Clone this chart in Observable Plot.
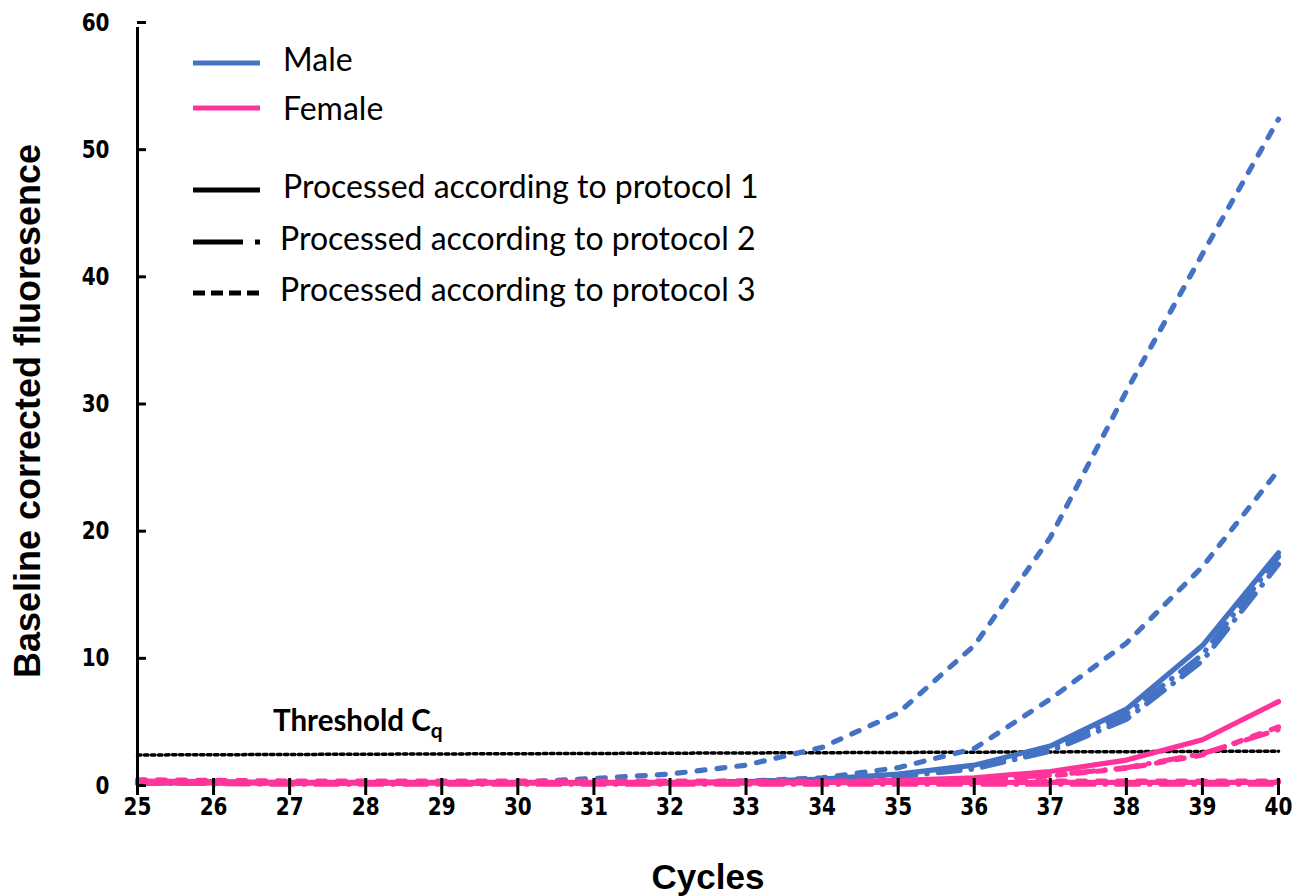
<!DOCTYPE html>
<html><head><meta charset="utf-8">
<script src="https://cdn.jsdelivr.net/npm/d3@7"></script>
<script src="https://cdn.jsdelivr.net/npm/@observablehq/plot@0.6"></script>
<style>
body{margin:0;background:#fff;}
#wrap{position:relative;width:1306px;height:896px;overflow:hidden;}
#overlay{position:absolute;left:0;top:0;pointer-events:none;}
</style></head><body><div id="wrap"></div>
<script>
// ---- data ----
const cycles     = [25, 26, 27, 28, 29, 30, 31, 32, 33, 34, 35, 36, 37, 38, 39, 40];
const maleP1     = [0.2, 0.2, 0.2, 0.2, 0.2, 0.2, 0.2, 0.2, 0.3, 0.5, 0.9, 1.6, 3.1, 6.0, 11.0, 18.3];
const maleP2a    = [0.2, 0.2, 0.2, 0.2, 0.2, 0.2, 0.2, 0.2, 0.3, 0.4, 0.8, 1.5, 2.9, 5.6, 10.3, 18.0];
const maleP2b    = [0.2, 0.2, 0.2, 0.2, 0.2, 0.2, 0.2, 0.2, 0.3, 0.4, 0.7, 1.3, 2.7, 5.2, 9.8, 17.4];
const maleP3a    = [0.3, 0.25, 0.2, 0.2, 0.2, 0.25, 0.55, 0.9, 1.6, 3.0, 5.7, 11.0, 19.5, 31.0, 41.8, 52.4];
const maleP3b    = [0.2, 0.2, 0.2, 0.2, 0.2, 0.2, 0.2, 0.25, 0.35, 0.6, 1.4, 2.9, 6.8, 11.2, 17.2, 24.8];
const femaleP1a  = [0.3, 0.25, 0.2, 0.2, 0.2, 0.2, 0.2, 0.2, 0.2, 0.25, 0.4, 0.6, 1.1, 2.0, 3.6, 6.6];
const femaleP2a  = [0.3, 0.25, 0.2, 0.2, 0.2, 0.2, 0.2, 0.2, 0.2, 0.2, 0.3, 0.5, 0.8, 1.4, 2.5, 4.4];
const femaleP3a  = [0.3, 0.25, 0.2, 0.2, 0.2, 0.2, 0.2, 0.2, 0.2, 0.2, 0.3, 0.45, 0.75, 1.35, 2.4, 4.6];
const femaleP1b  = [0.35, 0.3, 0.25, 0.25, 0.25, 0.25, 0.25, 0.25, 0.25, 0.25, 0.25, 0.25, 0.25, 0.25, 0.25, 0.25];
const femaleP2b  = [0.2, 0.15, 0.1, 0.1, 0.1, 0.1, 0.1, 0.1, 0.1, 0.1, 0.1, 0.1, 0.1, 0.1, 0.1, 0.1];
const femaleP3b  = [0.45, 0.4, 0.35, 0.35, 0.35, 0.35, 0.35, 0.35, 0.35, 0.35, 0.35, 0.35, 0.35, 0.35, 0.35, 0.35];
const thresholdCycles = [25, 40];
const thresholdValues = [2.4, 2.7];
const yTicks = [0, 10, 20, 30, 40, 50, 60];
const sexLabels = ["Male", "Female"];
const protocolLabels = ["Processed according to protocol 1", "Processed according to protocol 2", "Processed according to protocol 3"];
const xTitle = "Cycles";
const yTitle = "Baseline corrected fluoresence";
const thresholdLabel = "Threshold C";
const thresholdSub = "q";

// ---- styles ----
const colors = {Male: "#4472C4", Female: "#FF3399"};
const dashes = {1: null, 2: "22,11,0.5,11", 3: "8,12"};
const tickFont = {fontFamily: "'DejaVu Sans'", fontSize: 20, fontWeight: "bold", fill: "black"};

const series = [
  {sex: "Male", protocol: 3, values: maleP3a},
  {sex: "Male", protocol: 3, values: maleP3b},
  {sex: "Male", protocol: 2, values: maleP2a},
  {sex: "Male", protocol: 2, values: maleP2b},
  {sex: "Male", protocol: 1, values: maleP1},
  {sex: "Female", protocol: 1, values: femaleP1b},
  {sex: "Female", protocol: 2, values: femaleP2b},
  {sex: "Female", protocol: 3, values: femaleP3b},
  {sex: "Female", protocol: 3, values: femaleP3a},
  {sex: "Female", protocol: 2, values: femaleP2a},
  {sex: "Female", protocol: 1, values: femaleP1a}
];

const lineMarks = series.map(s => Plot.line(
  s.values.map((v, i) => ({cycle: cycles[i], value: v})),
  {x: "cycle", y: "value", stroke: colors[s.sex], strokeWidth: 5.2,
   strokeDasharray: dashes[s.protocol], strokeLinecap: "round", strokeLinejoin: "round"}
));

const thresholdData = thresholdCycles.map((c, i) => ({cycle: c, value: thresholdValues[i]}));

const chart = Plot.plot({
  width: 1306, height: 896,
  marginLeft: 137, marginRight: 28, marginTop: 22, marginBottom: 111,
  x: {domain: [25, 40]},
  y: {domain: [0, 60]},
  style: {fontFamily: "'DejaVu Sans'", fontSize: "20px", fontWeight: "bold", color: "black", background: "white"},
  marks: [
    Plot.line(thresholdData, {x: "cycle", y: "value", stroke: "black", strokeWidth: 3.5, strokeDasharray: "3.5,3.5"}),
    ...lineMarks,
    Plot.ruleX([25], {y1: 0, y2: 60, stroke: "black", strokeWidth: 3, insetBottom: -5}),
    Plot.axisY({ticks: yTicks, tickSize: -9, fill: "none", stroke: "black", strokeWidth: 3, label: null}),
    Plot.axisY({ticks: yTicks, tickSize: 0, tickPadding: 28, label: null, ...tickFont}),
    Plot.axisX({ticks: cycles, tickSize: 10, fill: "none", stroke: "black", strokeWidth: 3, label: null}),
    Plot.axisX({ticks: cycles, tickSize: -7, fill: "none", stroke: "black", strokeWidth: 3, label: null}),
    Plot.axisX({ticks: cycles, tickSize: 0, tickPadding: 11, label: null, ...tickFont}),
    Plot.text([xTitle], {frameAnchor: "bottom", dy: 103, lineAnchor: "bottom", textAnchor: "middle", fontFamily: "'Liberation Sans', Arial", fontSize: 35, fontWeight: "bold", fill: "black"}),
    Plot.text([yTitle], {frameAnchor: "left", dx: -109, dy: 7, rotate: -90, textAnchor: "middle", lineAnchor: "middle", fontFamily: "'Liberation Sans', Arial", fontSize: 36, fontWeight: "bold", fill: "black"})
  ]
});
document.getElementById("wrap").appendChild(chart);

// stretch tick labels vertically like the reference's tall bold digits
d3.select(chart).selectAll('g[aria-label="y-axis tick label"] text, g[aria-label="x-axis tick label"] text')
  .attr("transform", function() { return (this.getAttribute("transform") || "") + " scale(1,1.27)"; });

// ---- legend & threshold label overlay ----
const ov = d3.select("#wrap").append("svg").attr("id", "overlay").attr("width", 1306).attr("height", 896);
const legFont = "Lato";
const legSize = 32;
const sexY = [63, 112];
sexLabels.forEach((lab, i) => {
  ov.append("line").attr("x1", 193).attr("x2", 260).attr("y1", sexY[i] - (i ? 4 : 0)).attr("y2", sexY[i] - (i ? 4 : 0))
    .attr("stroke", colors[lab]).attr("stroke-width", 5);
  ov.append("text").attr("x", 283).attr("y", sexY[i]).attr("dominant-baseline", "middle")
    .attr("font-family", legFont).attr("font-size", legSize).text(lab);
});
const protY = [190, 242, 293];
protocolLabels.forEach((lab, i) => {
  const y = protY[i];
  if (i === 0) {
    ov.append("line").attr("x1", 193).attr("x2", 260).attr("y1", y).attr("y2", y).attr("stroke", "black").attr("stroke-width", 5);
  } else if (i === 1) {
    ov.append("line").attr("x1", 193).attr("x2", 243).attr("y1", y).attr("y2", y).attr("stroke", "black").attr("stroke-width", 5);
    ov.append("rect").attr("x", 255).attr("y", y - 2.5).attr("width", 5).attr("height", 5).attr("fill", "black");
  } else {
    ov.append("line").attr("x1", 193).attr("x2", 260).attr("y1", y).attr("y2", y).attr("stroke", "black").attr("stroke-width", 5).attr("stroke-dasharray", "12,6");
  }
  ov.append("text").attr("x", i === 0 ? 283 : 280).attr("y", y).attr("dominant-baseline", "middle")
    .attr("font-family", legFont).attr("font-size", legSize).text(lab);
});
const t = ov.append("text").attr("x", 273).attr("y", 731)
  .attr("font-family", legFont).attr("font-weight", "bold").attr("font-size", 29.5).text(thresholdLabel);
t.append("tspan").attr("font-size", 21).attr("dy", 7).text(thresholdSub);
</script>
</body></html>
